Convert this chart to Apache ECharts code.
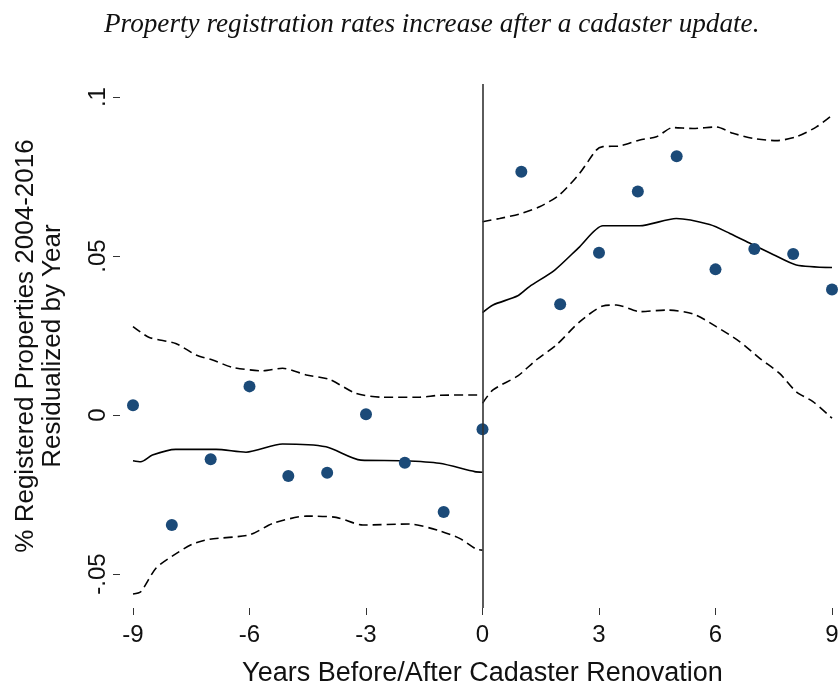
<!DOCTYPE html>
<html>
<head>
<meta charset="utf-8">
<script src="https://cdn.jsdelivr.net/npm/echarts@6/dist/echarts.min.js"></script>
<style>
  html, body { margin: 0; padding: 0; background: #fff; }
  #chart { width: 840px; height: 685px; }
</style>
</head>
<body>
<div id="chart"></div>
<script>
// binned means, years -9..9
const years = [-9, -8, -7, -6, -5, -4, -3, -2, -1, 0, 1, 2, 3, 4, 5, 6, 7, 8, 9];
const means = [0.0031, -0.0346, -0.0139, 0.0090, -0.0192, -0.0182, 0.0002, -0.0150, -0.0305, -0.0045,
               0.0765, 0.0348, 0.0510, 0.0703, 0.0814, 0.0458, 0.0522, 0.0506, 0.0395];

// local fit, before renovation
const fitLeft = [[-9, -0.0144], [-8.8, -0.0147], [-8.5, -0.0126], [-7.9, -0.0108], [-6.86, -0.0108],
                 [-6.09, -0.0117], [-5.15, -0.0091], [-4.03, -0.0100], [-3.13, -0.0142], [-2.05, -0.0144],
                 [-1.11, -0.0152], [-0.2, -0.0178], [0, -0.0180]];
const upperLeft = [[-9, 0.0278], [-8.58, 0.0244], [-7.9, 0.0225], [-7.38, 0.0189], [-6.95, 0.0173],
                   [-6.44, 0.0150], [-5.66, 0.0139], [-5.15, 0.0147], [-4.54, 0.0126], [-3.94, 0.0112],
                   [-3.26, 0.0068], [-2.57, 0.0056], [-1.62, 0.0056], [-1.11, 0.0062], [0, 0.0063]];
const lowerLeft = [[-9, -0.0563], [-8.8, -0.0556], [-8.41, -0.0482], [-7.98, -0.0443], [-7.47, -0.0406],
                   [-7.04, -0.0391], [-6.0, -0.0377], [-5.4, -0.0341], [-4.54, -0.0318], [-3.77, -0.0322],
                   [-3.08, -0.0346], [-1.88, -0.0343], [-1.11, -0.0364], [-0.59, -0.0388], [-0.16, -0.0422], [0, -0.0425]];

// local fit, after renovation
const fitRight = [[0, 0.0322], [0.27, 0.0346], [0.91, 0.0375], [1.21, 0.0404], [1.86, 0.0456],
                  [2.5, 0.0529], [3.1, 0.0595], [4.05, 0.0595], [4.99, 0.0618], [5.85, 0.0599],
                  [6.37, 0.0571], [6.97, 0.0535], [7.48, 0.0505], [8.08, 0.0472], [9, 0.0464]];
const upperRight = [[0, 0.0608], [0.44, 0.0618], [0.95, 0.0632], [1.47, 0.0655], [1.98, 0.0692],
                    [2.5, 0.0760], [2.93, 0.0833], [3.1, 0.0844], [3.53, 0.0846], [4.05, 0.0865],
                    [4.48, 0.0875], [4.9, 0.0904], [5.42, 0.0901], [6.02, 0.0906], [6.45, 0.0886],
                    [6.97, 0.0870], [7.57, 0.0863], [8.08, 0.0875], [8.6, 0.0906], [9, 0.0943]];
const lowerRight = [[0, 0.0037], [0.27, 0.0079], [0.91, 0.0123], [1.38, 0.0173], [1.9, 0.0220],
                    [2.5, 0.0293], [3.1, 0.0343], [3.45, 0.0346], [4.05, 0.0325], [4.73, 0.0330],
                    [5.42, 0.0318], [6.02, 0.0278], [6.62, 0.0231], [7.14, 0.0178], [7.65, 0.0131],
                    [8.08, 0.0073], [8.51, 0.0042], [9, -0.0010]];

const yTicks = [-0.05, 0, 0.05, 0.1];

const sans = 'Liberation Sans, Arial, Helvetica, sans-serif';

function fitLine(data, dashed) {
    return {
        type: 'line',
        data: data,
        symbol: 'none',
        smooth: 0.25,
        silent: true,
        lineStyle: {
            color: '#000',
            width: 1.6,
            type: dashed ? [9, 5] : 'solid'
        },
        z: 2
    };
}

let chartDom = document.getElementById('chart');
let myChart = echarts.init(chartDom);
let option;

option = {
    animation: false,
    backgroundColor: '#fff',
    title: {
        text: 'Property registration rates increase after a cadaster update.',
        left: 99,
        top: 6,
        textStyle: {
            fontFamily: 'Liberation Serif, Times New Roman, serif',
            fontStyle: 'italic',
            fontWeight: 'normal',
            fontSize: 27.2,
            color: '#111'
        }
    },
    grid: {
        left: 133,
        right: 8,
        top: 84,
        bottom: 77,
        outerBoundsMode: 'none'
    },
    xAxis: {
        type: 'value',
        min: -9,
        max: 9,
        interval: 3,
        name: 'Years Before/After Cadaster Renovation',
        nameLocation: 'middle',
        nameGap: 52,
        nameTextStyle: { fontFamily: sans, fontSize: 27, color: '#111' },
        axisLine: { show: false, onZero: false },
        axisTick: { show: true, inside: false, length: 7, lineStyle: { color: '#333', width: 1 } },
        axisLabel: { fontFamily: sans, fontSize: 24, color: '#111', margin: 15 },
        splitLine: { show: false }
    },
    yAxis: {
        type: 'value',
        min: -0.0607,
        max: 0.1041,
        offset: 13,
        name: '% Registered Properties 2004-2016\nResidualized by Year',
        nameLocation: 'middle',
        nameGap: 54,
        nameTextStyle: { fontFamily: sans, fontSize: 26, color: '#111', lineHeight: 27 },
        axisLine: { show: false, onZero: false },
        axisTick: { show: true, length: 7, customValues: yTicks, lineStyle: { color: '#333', width: 1 } },
        axisLabel: {
            fontFamily: sans,
            fontSize: 24,
            color: '#111',
            rotate: 90,
            margin: 10,
            customValues: yTicks,
            formatter: function (v) {
                if (v === 0) return '0';
                return String(v).replace('0.', '.');
            }
        },
        splitLine: { show: false }
    },
    series: [
        fitLine(fitLeft, false),
        fitLine(upperLeft, true),
        fitLine(lowerLeft, true),
        fitLine(fitRight, false),
        fitLine(upperRight, true),
        fitLine(lowerRight, true),
        {
            type: 'scatter',
            data: years.map((y, i) => [y, means[i]]),
            symbolSize: 12,
            itemStyle: { color: '#1b4a78', opacity: 1 },
            z: 3,
            markLine: {
                silent: true,
                symbol: 'none',
                label: { show: false },
                lineStyle: { color: '#333', width: 1.6, type: 'solid' },
                data: [{ xAxis: 0 }]
            }
        }
    ]
};

option && myChart.setOption(option);
</script>
</body>
</html>
